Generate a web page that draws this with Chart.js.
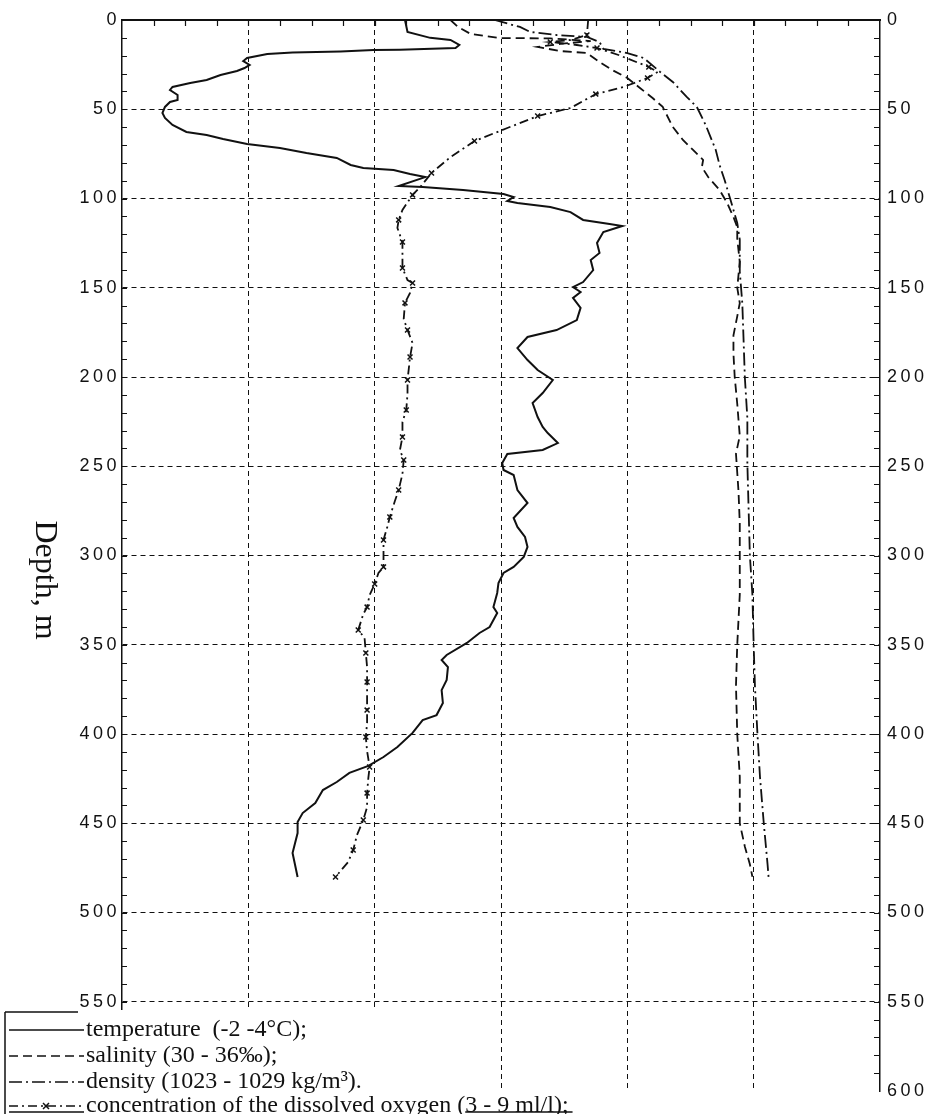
<!DOCTYPE html>
<html>
<head>
<meta charset="utf-8">
<title>Vertical profiles: temperature, salinity, density, dissolved oxygen</title>
<script src="https://cdn.jsdelivr.net/npm/chart.js@4.4.1/dist/chart.umd.min.js"></script>
<style>
  html, body { margin: 0; padding: 0; background: #ffffff; }
  canvas { display: block; }
</style>
</head>
<body>
<canvas id="profile" width="935" height="1114"></canvas>
<script>
// Depth axis ticks (m)
const depthTicks = [0, 50, 100, 150, 200, 250, 300, 350, 400, 450, 500, 550, 600];

// Temperature profile, °C (scale -2 ... 4)
const tempDepth = [0, 6.7, 10, 11.2, 14, 15.7, 16.6, 16.8, 17.6, 18.2, 19, 21.3, 23, 25.2, 26.9, 28.6, 30.8, 33.6, 35.3, 37.5, 39.2, 42, 44.8, 45.9, 48.7, 52.1, 54.9, 58.8, 62.7, 64.4, 66.7, 69.5, 71.7, 74.5, 77.3, 81.2, 82.9, 84, 86.3, 88, 93, 93.6, 95.2, 97.5, 99.2, 101.4, 102.5, 104.8, 107.6, 112, 114.3, 115.4, 118.8, 124.9, 130.5, 134.5, 140.1, 146.8, 149.6, 152.4, 155.7, 161.3, 168.1, 173.7, 177.6, 183.8, 190.5, 196.1, 201.7, 209, 214.6, 222.4, 228, 231.4, 237, 240.9, 243.1, 248.2, 252.1, 254.9, 263.3, 270.6, 279, 284, 289.6, 295.2, 300.8, 306.4, 309.8, 315.4, 321, 328.9, 332.2, 340.1, 343.4, 349, 355.7, 358.5, 362.5, 369.7, 375.4, 382.6, 389.4, 392.2, 399.4, 407.3, 412.9, 417.9, 421.8, 426.9, 431.4, 438.7, 444.3, 449.3, 455.5, 466.7, 480.1];
const tempC = [0.24, 0.26, 0.44, 0.60, 0.67, 0.64, 0.20, -0.01, -0.27, -0.65, -0.85, -1.01, -1.04, -0.99, -1.03, -1.09, -1.22, -1.33, -1.46, -1.60, -1.62, -1.56, -1.56, -1.62, -1.66, -1.68, -1.66, -1.60, -1.49, -1.33, -1.20, -1.01, -0.75, -0.54, -0.30, -0.19, -0.09, 0.15, 0.28, 0.40, 0.19, 0.38, 0.70, 1.02, 1.10, 1.05, 1.13, 1.39, 1.55, 1.65, 1.86, 1.96, 1.81, 1.76, 1.78, 1.71, 1.73, 1.65, 1.57, 1.63, 1.57, 1.63, 1.60, 1.44, 1.21, 1.13, 1.21, 1.29, 1.41, 1.33, 1.25, 1.29, 1.33, 1.37, 1.45, 1.33, 1.05, 1.01, 1.02, 1.10, 1.13, 1.21, 1.10, 1.13, 1.19, 1.21, 1.18, 1.10, 1.02, 0.98, 0.97, 0.94, 0.97, 0.91, 0.83, 0.73, 0.57, 0.53, 0.58, 0.57, 0.53, 0.54, 0.49, 0.38, 0.30, 0.18, 0.07, -0.05, -0.20, -0.30, -0.41, -0.47, -0.57, -0.61, -0.61, -0.65, -0.61];

// Salinity profile, ‰ (scale 30 ... 36)
const salDepth = [0, 3.9, 7.8, 10.1, 10.3, 11.8, 13.4, 15.1, 17.4, 18.5, 23.5, 28, 32.5, 38.1, 43.7, 48.7, 59.9, 67.2, 72.8, 78.4, 82.4, 88, 95.2, 102.5, 110.4, 116, 122.6, 135.5, 150, 158.6, 166, 176.6, 187, 200, 215, 233, 243, 264, 282, 300, 322, 350, 373, 400, 424, 450, 463, 473, 480];
const salinity = [32.60, 32.66, 32.76, 32.99, 33.39, 33.71, 33.47, 33.29, 33.47, 33.68, 33.78, 33.88, 34.00, 34.10, 34.20, 34.28, 34.36, 34.44, 34.52, 34.60, 34.59, 34.64, 34.73, 34.79, 34.84, 34.87, 34.87, 34.89, 34.87, 34.89, 34.87, 34.84, 34.84, 34.85, 34.87, 34.89, 34.86, 34.88, 34.89, 34.89, 34.89, 34.87, 34.86, 34.87, 34.89, 34.89, 34.93, 34.97, 34.99];

// Density profile, kg/m³ (scale 1023 ... 1029)
const densDepth = [0, 3.9, 6.7, 8.4, 9.5, 12.3, 16.2, 18.5, 21.3, 29.1, 34.7, 43.1, 48.7, 58.8, 72.8, 81.2, 89.6, 99.2, 106.4, 113.7, 123, 141, 158.6, 179, 200, 223, 248.5, 274, 300, 322, 350, 373, 400, 424, 450, 473, 482];
const density = [1025.95, 1026.15, 1026.23, 1026.44, 1026.68, 1026.78, 1026.81, 1027.00, 1027.13, 1027.26, 1027.36, 1027.47, 1027.55, 1027.62, 1027.70, 1027.73, 1027.77, 1027.81, 1027.84, 1027.87, 1027.89, 1027.89, 1027.91, 1027.92, 1027.93, 1027.95, 1027.95, 1027.96, 1027.97, 1027.99, 1028.00, 1028.01, 1028.03, 1028.05, 1028.08, 1028.11, 1028.12];

// Dissolved oxygen profile, ml/l (scale 3 ... 9)
const oxyDepth = [0, 8.4, 11.2, 12.3, 14, 15.7, 19.6, 26.3, 29.1, 32.5, 37.5, 41.5, 49.3, 53.8, 60.5, 67.8, 76.8, 85.7, 93.6, 98, 106.4, 112, 116.5, 124.4, 132.8, 138.9, 145.7, 147.3, 152.9, 158.5, 167.5, 173.7, 181, 188.8, 195.5, 201.7, 209.5, 218.5, 225.2, 233.6, 240.9, 246.5, 254.3, 263.3, 269.5, 278.4, 284, 291.3, 299.2, 306.4, 309.8, 316, 322.1, 328.9, 332.8, 341.7, 346.2, 354.6, 362.5, 370.9, 379.3, 386.6, 393.8, 401.7, 409.5, 418.5, 424.6, 433.1, 440.9, 448.2, 456.6, 465, 471.7, 480.1];
const oxygen = [6.69, 6.68, 6.55, 6.39, 6.60, 6.76, 6.93, 7.17, 7.24, 7.16, 6.97, 6.75, 6.55, 6.29, 6.05, 5.79, 5.60, 5.45, 5.36, 5.30, 5.22, 5.19, 5.18, 5.22, 5.22, 5.22, 5.26, 5.30, 5.28, 5.24, 5.23, 5.26, 5.30, 5.28, 5.27, 5.26, 5.26, 5.25, 5.22, 5.22, 5.20, 5.23, 5.22, 5.19, 5.16, 5.12, 5.10, 5.07, 5.07, 5.07, 5.03, 5.00, 4.96, 4.94, 4.91, 4.87, 4.92, 4.93, 4.94, 4.94, 4.94, 4.94, 4.94, 4.93, 4.94, 4.96, 4.95, 4.94, 4.94, 4.91, 4.86, 4.83, 4.79, 4.69];

// Legend entries
const legendLabels = [
  'temperature  (-2 -4\u00B0C);',
  'salinity (30 - 36\u2030);',
  'density (1023 - 1029 kg/m\u00B3).',
  'concentration of the dissolved oxygen (3 - 9 ml/l);'
];
const underlinedPart = '3 - 9 ml/l);';
const axisTitle = 'Depth, m';

const INK = '#111111';
const SERIF = '"Liberation Serif", "Times New Roman", serif';
const SANS = '"Liberation Sans", Arial, sans-serif';

const DASH_GRID = [5, 4];
const DASH_SAL = [9, 5];
const DASH_DENS = [13, 4, 2, 4];
const DASH_OXY = [9, 4, 2, 4];

function toPoints(depths, values) {
  return depths.map((d, i) => ({ x: values[i], y: d }));
}

// Grid lines are drawn only inside the frame, not over the borders.
function innerGrid(lo, hi) {
  return (ctx) => {
    const v = ctx.tick ? ctx.tick.value : null;
    return (v === lo || v === hi) ? 'rgba(0,0,0,0)' : INK;
  };
}

// Tick labels use a widely spaced typewriter-like look.
const spacedTicks = {
  id: 'spacedTicks',
  beforeDraw(chart) { chart.ctx.letterSpacing = '3.5px'; },
  beforeDatasetsDraw(chart) { chart.ctx.letterSpacing = '0px'; }
};

// Small inward minor ticks along the top, left and right frame edges.
const minorTicks = {
  id: 'minorTicks',
  afterDraw(chart) {
    const { ctx, chartArea: a } = chart;
    const y = chart.scales.y;
    const x = chart.scales.xT;
    ctx.save();
    ctx.strokeStyle = INK;
    ctx.lineWidth = 1.2;
    ctx.beginPath();
    for (let d = 10; d <= 590; d += 10) {
      const py = Math.round(y.getPixelForValue(d)) + 0.5;
      if (d <= 550) { ctx.moveTo(a.left, py); ctx.lineTo(a.left + 5, py); }
      ctx.moveTo(a.right, py); ctx.lineTo(a.right - 6, py);
    }
    for (let t = -1.75; t < 4; t += 0.25) {
      const px = Math.round(x.getPixelForValue(t)) + 0.5;
      ctx.moveTo(px, a.top); ctx.lineTo(px, a.top + 6);
    }
    ctx.stroke();
    ctx.restore();
  }
};

// Rotated depth title on the left and the boxed legend at the lower left.
const annotations = {
  id: 'annotations',
  afterDraw(chart) {
    const ctx = chart.ctx;
    ctx.save();
    ctx.letterSpacing = '0px';

    // axis title, reading downward
    ctx.save();
    ctx.translate(44, 580);
    ctx.rotate(Math.PI / 2);
    ctx.fillStyle = INK;
    ctx.font = '32px ' + SERIF;
    ctx.textAlign = 'center';
    ctx.textBaseline = 'middle';
    ctx.fillText(axisTitle, 0, 0);
    ctx.restore();

    // legend panel
    ctx.fillStyle = '#ffffff';
    ctx.fillRect(0, 1010, 470, 104);
    ctx.fillRect(0, 1094, 620, 20);

    ctx.strokeStyle = INK;
    ctx.lineWidth = 1.5;
    ctx.beginPath();
    ctx.moveTo(5, 1012); ctx.lineTo(5, 1114);
    ctx.moveTo(5, 1012); ctx.lineTo(78, 1012);
    ctx.stroke();

    const rows = [1030, 1056, 1082, 1106];
    const dashes = [[], DASH_SAL, DASH_DENS, DASH_OXY];
    for (let i = 0; i < 4; i++) {
      const ly = rows[i];
      ctx.save();
      ctx.lineWidth = 1.6;
      ctx.setLineDash(dashes[i]);
      ctx.beginPath();
      ctx.moveTo(9, ly); ctx.lineTo(84, ly);
      ctx.stroke();
      ctx.restore();
    }
    // marker on the oxygen sample and its base line
    ctx.beginPath();
    const mx = 46, my = rows[3];
    ctx.moveTo(mx - 3, my - 3); ctx.lineTo(mx + 3, my + 3);
    ctx.moveTo(mx + 3, my - 3); ctx.lineTo(mx - 3, my + 3);
    ctx.moveTo(9, 1112); ctx.lineTo(84, 1112);
    ctx.stroke();

    ctx.fillStyle = INK;
    ctx.font = '24px ' + SERIF;
    ctx.textAlign = 'left';
    ctx.textBaseline = 'middle';
    for (let i = 0; i < 4; i++) {
      ctx.fillText(legendLabels[i], 86, rows[i]);
    }
    // underline under the oxygen range
    const last = legendLabels[3];
    const u0 = 86 + ctx.measureText(last.slice(0, last.indexOf(underlinedPart))).width;
    const u1 = 86 + ctx.measureText(last).width + 4;
    ctx.beginPath();
    ctx.moveTo(u0, 1112); ctx.lineTo(u1, 1112);
    ctx.stroke();

    ctx.restore();
  }
};

const lineBase = {
  fill: false,
  tension: 0,
  borderColor: INK,
  pointRadius: 0,
  pointHoverRadius: 0
};

new Chart(document.getElementById('profile'), {
  type: 'line',
  data: {
    datasets: [
      Object.assign({}, lineBase, {
        label: 'temperature',
        data: toPoints(tempDepth, tempC),
        xAxisID: 'xT', yAxisID: 'y',
        borderWidth: 2
      }),
      Object.assign({}, lineBase, {
        label: 'salinity',
        data: toPoints(salDepth, salinity),
        xAxisID: 'xS', yAxisID: 'y',
        borderWidth: 1.8,
        borderDash: DASH_SAL
      }),
      Object.assign({}, lineBase, {
        label: 'density',
        data: toPoints(densDepth, density),
        xAxisID: 'xD', yAxisID: 'y',
        borderWidth: 1.8,
        borderDash: DASH_DENS
      }),
      Object.assign({}, lineBase, {
        label: 'oxygen',
        data: toPoints(oxyDepth, oxygen),
        xAxisID: 'xO', yAxisID: 'y',
        borderWidth: 1.8,
        borderDash: DASH_OXY,
        pointStyle: 'crossRot',
        pointBorderColor: INK,
        pointBorderWidth: 1.5,
        pointRadius: (c) => (c.dataIndex % 2 === 1 ? 3.5 : 0)
      })
    ]
  },
  options: {
    responsive: false,
    animation: false,
    indexAxis: 'y',
    devicePixelRatio: 1,
    layout: { padding: { top: 20, bottom: 23, left: 0, right: 0 } },
    plugins: {
      legend: { display: false },
      tooltip: { enabled: false },
      title: { display: false }
    },
    events: [],
    scales: {
      xT: {
        type: 'linear', position: 'top', min: -2, max: 4,
        ticks: { display: false, stepSize: 1 },
        grid: { color: innerGrid(-2, 4), lineWidth: 1, drawTicks: false },
        border: { display: true, color: INK, width: 2, dash: DASH_GRID },
        afterFit(s) { s.height = 0; }
      },
      xS: { type: 'linear', position: 'top', display: false, min: 30, max: 36 },
      xD: { type: 'linear', position: 'top', display: false, min: 1023, max: 1029 },
      xO: { type: 'linear', position: 'top', display: false, min: 3, max: 9 },
      y: {
        type: 'linear', position: 'left', reverse: true, min: 0, max: 600,
        afterBuildTicks(s) { s.ticks = depthTicks.map(v => ({ value: v })); },
        ticks: { color: INK, padding: 2, font: { family: SANS, size: 18 } },
        grid: { color: innerGrid(0, 600), lineWidth: 1, drawTicks: false },
        border: { display: true, color: INK, width: 1.5, dash: DASH_GRID },
        afterFit(s) { s.width = 122; }
      },
      y2: {
        type: 'linear', position: 'right', reverse: true, min: 0, max: 600,
        afterBuildTicks(s) { s.ticks = depthTicks.map(v => ({ value: v })); },
        ticks: { color: INK, padding: 7, font: { family: SANS, size: 18 } },
        grid: { drawOnChartArea: false, drawTicks: false },
        border: { display: true, color: INK, width: 1.5 },
        afterFit(s) { s.width = 55; }
      }
    }
  },
  plugins: [spacedTicks, minorTicks, annotations]
});
</script>
</body>
</html>
